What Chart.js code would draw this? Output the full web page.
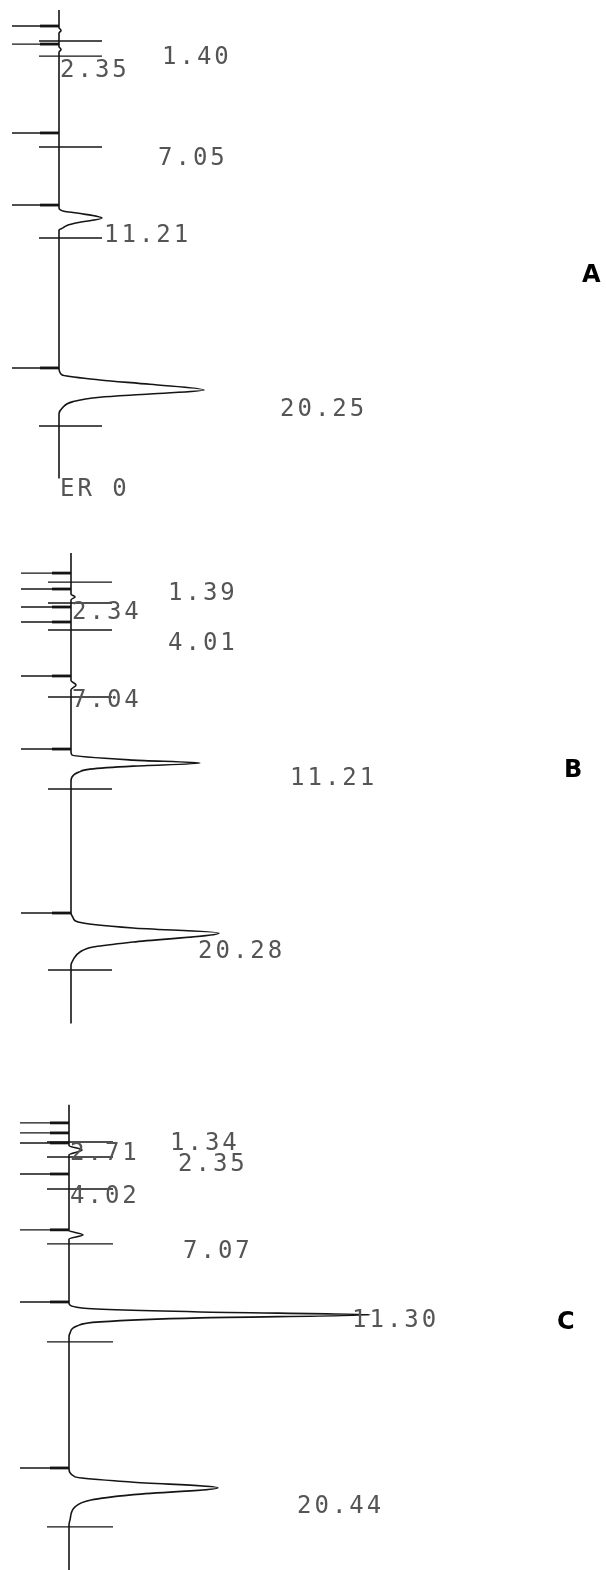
<!DOCTYPE html>
<html>
<head>
<meta charset="utf-8">
<script src="https://cdn.jsdelivr.net/npm/chart.js@4/dist/chart.umd.min.js"></script>
<style>
  html, body { margin: 0; padding: 0; background: #fff; }
  #page { position: relative; width: 606px; height: 1570px; overflow: hidden; }
  canvas { position: absolute; left: 0; }
  .tag { position: absolute; font: bold 24px/24px "DejaVu Sans", sans-serif; color: #000; }
</style>
</head>
<body>
<div id="page">
  <canvas id="chart-a" width="606" height="500" style="top:0"></canvas>
  <canvas id="chart-b" width="606" height="550" style="top:500px"></canvas>
  <canvas id="chart-c" width="606" height="520" style="top:1050px"></canvas>
  <div class="tag" style="left:582px; top:262px">A</div>
  <div class="tag" style="left:564px; top:757px">B</div>
  <div class="tag" style="left:557px; top:1309px">C</div>
</div>
<script>
// ---- Panel A (time in min, signal in detector units) ----
const traceTimeA   = [0.28, 1.2, 1.35, 1.5, 2.2, 2.35, 2.5, 10.68, 10.85, 10.95, 11.21, 11.46, 11.6, 11.73, 11.84,
                      19.09, 19.46, 19.72, 19.95, 20.25, 20.46, 20.63, 20.86, 21.21, 21.5, 24.9];
const traceSignalA = [0, 0, 2, 0, 0, 2, 0, 0, 5, 18, 43, 18, 8, 4, 0,
                      0, 3, 41, 91, 145, 91, 41, 14, 3, 0, 0];
const startMarksA = [1.12, 2.07, 6.74, 10.53, 19.09];
const endMarksA   = [1.91, 2.70, 7.48, 12.26, 22.14];
const rtValuesA = [1.40, 2.35, 7.05, 11.21, 20.25];
const rtLabelsA = ['1.40', '2.35', '7.05', '11.21', '20.25'];

// ---- Panel B ----
const traceTimeB   = [0, 2.2, 2.34, 2.5, 6.8, 7.04, 7.3, 10.62, 10.78, 11.05, 11.21, 11.37, 11.53, 11.69, 11.95, 12.2,
                      19.21, 19.45, 19.69, 20.01, 20.28, 20.76, 21.02, 21.29, 21.72, 22.0, 25.1];
const traceSignalB = [0, 0, 4, 0, 0, 5, 0, 0, 1, 62, 129, 62, 19, 8, 1, 0,
                      0, 2, 7, 62, 148, 62, 22, 9, 2, 0, 0];
const startMarksB = [1.07, 1.92, 2.88, 3.68, 6.56, 10.46, 19.21];
const endMarksB   = [1.55, 2.67, 4.11, 7.68, 12.59, 22.25];
const rtValuesB = [1.39, 2.34, 4.01, 7.04, 11.21, 20.28];
const rtLabelsB = ['1.39', '2.34', '4.01', '7.04', '11.21', '20.28'];

// ---- Panel C ----
const traceTimeC   = [0.2, 2.35, 2.59, 2.85, 6.85, 7.07, 7.3, 10.67, 10.93, 11.15, 11.30, 11.46, 11.67, 11.89, 12.26, 12.5,
                      19.39, 19.86, 20.13, 20.44, 20.81, 21.08, 21.45, 22.13, 22.4, 24.8];
const traceSignalC = [0, 0, 13, 0, 0, 14, 0, 0, 11, 131, 301, 131, 31, 8, 1, 0,
                      0, 6, 62, 149, 62, 22, 6, 1, 0, 0];
const startMarksC = [1.16, 1.69, 2.22, 3.86, 6.81, 10.62, 19.39];
const endMarksC   = [2.17, 2.96, 4.65, 7.55, 12.73, 22.50];
const rtValuesC = [1.34, 2.35, 2.71, 4.02, 7.07, 11.30, 20.44];
const rtLabelsC = ['1.34', '2.35', '2.71', '4.02', '7.07', '11.30', '20.44'];

// layout: label offsets in px from (baseline, retention time)
const labelOffsetA = [[103, 26], [1, 21], [99, 20], [45, 18], [221, 20]];
const labelOffsetB = [[97, 15], [1, 16], [97, 16], [1, 16], [219, 16], [127, 19]];
const labelOffsetC = [[101, 17], [109, 19], [1, 2], [1, 20], [114, 17], [283, 6], [228, 19]];

const INK = '#151515';
const TEXT = '#555';

const rtLabelPlugin = {
  id: 'rtLabels',
  afterDatasetsDraw(chart, args, opts) {
    const ctx = chart.ctx;
    const xs = chart.scales.x, ys = chart.scales.y;
    const x0 = xs.getPixelForValue(0);
    ctx.save();
    ctx.fillStyle = TEXT;
    ctx.font = '24px "DejaVu Sans Mono", monospace';
    ctx.letterSpacing = '3px';
    ctx.textBaseline = 'middle';
    ctx.textAlign = 'left';
    opts.values.forEach((v, i) => {
      const [dx, dy] = opts.offsets[i];
      ctx.fillText(opts.labels[i], x0 + dx, ys.getPixelForValue(v) + dy);
    });
    if (opts.footer) {
      ctx.fillText(opts.footer.text, x0 + opts.footer.dx, ys.getPixelForValue(opts.footer.at) + opts.footer.dy);
    }
    ctx.restore();
  }
};

function markSet(times, from, to, width) {
  return times.map(t => ({
    data: [{ x: from, y: t }, { x: to, y: t }],
    borderColor: INK,
    borderWidth: width,
    pointRadius: 0,
    clip: false
  }));
}

function makePanel(id, p) {
  const trace = p.time.map((t, i) => ({ x: p.signal[i], y: t }));
  const datasets = [
    {
      data: trace,
      indexAxis: 'y',
      borderColor: INK,
      borderWidth: 1.6,
      pointRadius: 0,
      cubicInterpolationMode: 'monotone',
      clip: false
    },
    ...markSet(p.starts, p.startSpan[0], p.startSpan[1], 1.4),
    ...markSet(p.starts, -19, 0, 2.8),
    ...markSet(p.ends, p.endSpan[0], p.endSpan[1], 1.4)
  ];
  return new Chart(document.getElementById(id), {
    type: 'line',
    data: { datasets },
    options: {
      responsive: false,
      animation: false,
      devicePixelRatio: 1,
      layout: { padding: 0 },
      scales: {
        x: { type: 'linear', display: false, min: -p.baseX, max: 606 - p.baseX },
        y: { type: 'linear', display: false, reverse: true, min: p.tMin, max: p.tMax }
      },
      plugins: {
        legend: { display: false },
        tooltip: { enabled: false },
        rtLabels: { values: p.rts, labels: p.labels, offsets: p.offsets, footer: p.footer }
      }
    },
    plugins: [rtLabelPlugin]
  });
}

makePanel('chart-a', {
  time: traceTimeA, signal: traceSignalA, starts: startMarksA, ends: endMarksA,
  rts: rtValuesA, labels: rtLabelsA, offsets: labelOffsetA,
  baseX: 59, tMin: -0.247, tMax: 26.03, startSpan: [-47, 0], endSpan: [-20, 43],
  footer: { text: 'ER 0', at: 24.9, dx: 1, dy: 11 }
});
makePanel('chart-b', {
  time: traceTimeB, signal: traceSignalB, starts: startMarksB, ends: endMarksB,
  rts: rtValuesB, labels: rtLabelsB, offsets: labelOffsetB,
  baseX: 71, tMin: -2.83, tMax: 26.52, startSpan: [-50, 0], endSpan: [-23, 41]
});
makePanel('chart-c', {
  time: traceTimeC, signal: traceSignalC, starts: startMarksC, ends: endMarksC,
  rts: rtValuesC, labels: rtLabelsC, offsets: labelOffsetC,
  baseX: 69, tMin: -2.69, tMax: 24.78, startSpan: [-49, 0], endSpan: [-22, 44]
});
</script>
</body>
</html>
